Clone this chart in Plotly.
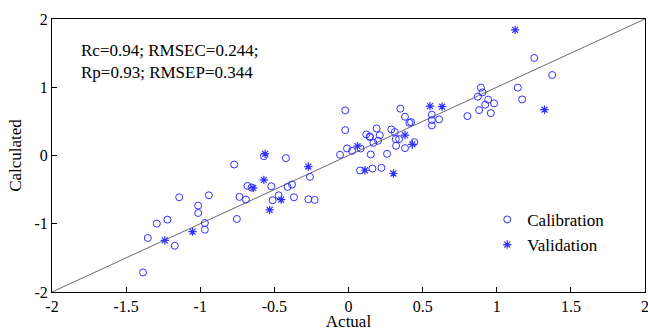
import plotly.graph_objects as go

cal_x = [-0.771, -1.142, -0.942, -1.014, -1.014, -1.293, -1.221, -0.969, -0.969, -0.753,
         -0.735, -1.354, -1.172, -1.386, -0.022, -0.571, -0.422, -0.260, -0.681, -0.654,
         -0.521, -0.381, -0.411, -0.471, -0.692, -0.512, -0.368, -0.271, -0.228, -0.057,
         -0.010, 0.024, 0.078, -0.022, 0.350, 0.381, 0.411, 0.422, 0.562, 0.562,
         0.562, 0.611, 0.190, 0.120, 0.143, 0.145, 0.211, 0.289, 0.312, 0.168,
         0.199, 0.319, 0.341, 0.321, 0.381, 0.444, 0.082, 0.150, 0.260, 0.161,
         0.222, 1.253, 1.374, 1.142, 1.171, 0.893, 0.904, 0.872, 0.942, 0.982,
         0.922, 0.881, 0.960, 0.802]
cal_y = [-0.132, -0.612, -0.583, -0.734, -0.842, -0.999, -0.940, -0.989, -1.087, -0.930,
         -0.607, -1.209, -1.322, -1.713, 0.372, -0.010, -0.039, -0.313, -0.445, -0.470,
         -0.450, -0.426, -0.460, -0.583, -0.646, -0.656, -0.612, -0.641, -0.651, 0.010,
         0.103, 0.069, -0.220, 0.661, 0.686, 0.568, 0.480, 0.489, 0.598, 0.519,
         0.441, 0.529, 0.396, 0.308, 0.279, 0.269, 0.298, 0.382, 0.343, 0.186,
         0.216, 0.240, 0.240, 0.142, 0.108, 0.196, 0.103, 0.015, 0.025, -0.191,
         -0.181, 1.429, 1.179, 0.994, 0.822, 0.994, 0.925, 0.862, 0.818, 0.764,
         0.744, 0.665, 0.621, 0.577]

val_x = [-1.239, -1.052, -0.562, -0.271, -0.571, -0.643, -0.454, -0.532, 0.060, 0.550,
         0.631, 0.381, 0.431, 0.111, 0.303, 1.124, 1.322]
val_y = [-1.243, -1.116, 0.025, -0.162, -0.357, -0.475, -0.646, -0.798, 0.137, 0.724,
         0.715, 0.298, 0.162, -0.216, -0.264, 1.840, 0.671]

line_x = [-2, 2]
line_y = [-2, 2]

x_ticks = [-2, -1.5, -1, -0.5, 0, 0.5, 1, 1.5, 2]
x_tick_labels = ["-2", "-1.5", "-1", "-0.5", "0", "0.5", "1", "1.5", "2"]
y_ticks = [-2, -1, 0, 1, 2]
y_tick_labels = ["-2", "-1", "0", "1", "2"]

stats_lines = ["Rc=0.94; RMSEC=0.244;", "Rp=0.93; RMSEP=0.344"]

FONT = "Liberation Serif"
BLUE = "#3030ff"

fig = go.Figure()
fig.add_trace(go.Scatter(x=line_x, y=line_y, mode="lines",
                         line=dict(color="#444444", width=0.8),
                         showlegend=False, hoverinfo="skip"))
fig.add_trace(go.Scatter(x=cal_x, y=cal_y, mode="markers", name="Calibration",
                         marker=dict(symbol="circle-open", size=7,
                                     color=BLUE, line=dict(width=1, color=BLUE))))
fig.add_trace(go.Scatter(x=val_x, y=val_y, mode="markers", name="Validation",
                         marker=dict(symbol="asterisk-open", size=7,
                                     color=BLUE, line=dict(width=1.2, color=BLUE))))

fig.add_annotation(x=-1.82, y=1.38, xref="x", yref="y",
                   text="<br>".join(stats_lines), showarrow=False,
                   xanchor="left", yanchor="middle", align="left",
                   font=dict(family=FONT, size=17, color="black"))

axis_common = dict(showgrid=False, zeroline=False, showline=True, linecolor="black",
                   linewidth=1, mirror=True, ticks="inside", ticklen=5,
                   tickcolor="black", ticklabeloverflow="allow", automargin=False,
                   tickfont=dict(family=FONT, size=16, color="black"))

fig.update_xaxes(range=[-2, 2], tickvals=x_ticks, ticktext=x_tick_labels,
                 title=dict(text="Actual", font=dict(family=FONT, size=17, color="black"),
                            standoff=4),
                 **axis_common)
fig.update_yaxes(range=[-2, 2], tickvals=y_ticks, ticktext=y_tick_labels,
                 title=dict(text="Calculated", font=dict(family=FONT, size=17, color="black"),
                            standoff=8),
                 **axis_common)

fig.update_layout(
    width=648, height=331,
    margin=dict(l=52, r=3, t=19, b=39, autoexpand=False),
    paper_bgcolor="white", plot_bgcolor="white",
    font=dict(family=FONT, color="black"),
    legend=dict(x=0.734, y=0.33, xanchor="left", yanchor="top",
                bgcolor="rgba(0,0,0,0)", font=dict(family=FONT, size=17, color="black"),
                itemsizing="trace", tracegroupgap=0),
)

fig.write_html("out.html",
               config={"displayModeBar": False},
               post_script="document.body.style.margin='0';document.body.style.overflow='hidden';")
